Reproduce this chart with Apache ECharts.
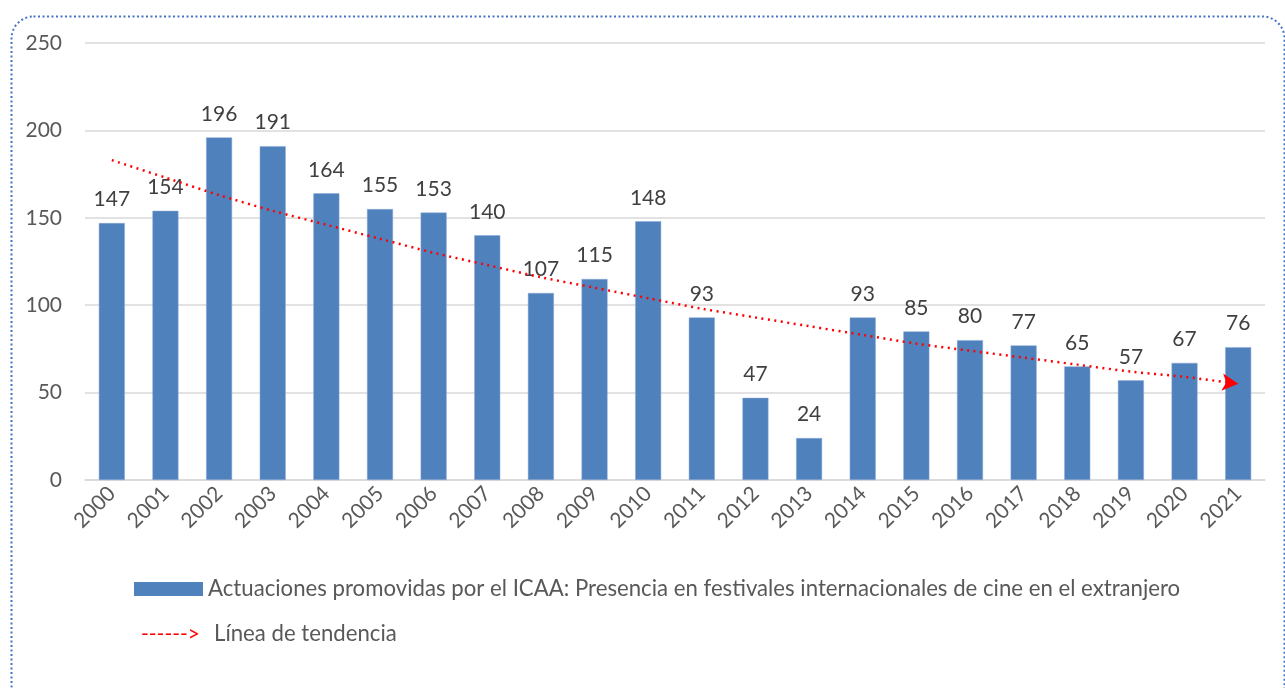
<!DOCTYPE html>
<html><head><meta charset="utf-8">
<script src="https://cdn.jsdelivr.net/npm/echarts@6/dist/echarts.min.js"></script>
<style>html,body{margin:0;padding:0;background:#fff}#c{width:1285px;height:688px}</style>
</head><body><div id="c"></div>
<script>
const years = ['2000','2001','2002','2003','2004','2005','2006','2007','2008','2009','2010','2011','2012','2013','2014','2015','2016','2017','2018','2019','2020','2021'];
const actuaciones = [147,154,196,191,164,155,153,140,107,115,148,93,47,24,93,85,80,77,65,57,67,76];
const tendencia = [183,173,163,154,146,138,130,123,116,110,104,98,93,88,83,78,74,70,66,62,59,55];
const yTicks = [0,50,100,150,200,250];
const barName = 'Actuaciones promovidas por el ICAA: Presencia en festivales internacionales de cine en el extranjero';
const trendName = 'Línea de tendencia';

const FONT = 'Lato, "Open Sans", sans-serif';
const chart = echarts.init(document.getElementById('c'));
const trendData = tendencia.map((v, i) => i === tendencia.length - 1
  ? {value: v, symbol: 'arrow', symbolSize: [13, 16], symbolRotate: -96, itemStyle: {color: '#ff0000'}}
  : v);
chart.setOption({
  animation: false,
  graphic: [{
    type: 'rect', left: 9, top: 14,
    shape: {width: 1273, height: 690, r: 22},
    style: {fill: 'none', stroke: '#4472c4', lineWidth: 2, lineDash: [2, 2.5]},
    silent: true
  }],
  grid: {left: 85, right: 20, top: 43, bottom: 208},
  legend: [{
    data: [barName],
    left: 129, top: 573,
    itemWidth: 69, itemHeight: 14, itemGap: 6,
    icon: 'rect',
    itemStyle: {borderWidth: 0},
    textStyle: {fontFamily: FONT, fontSize: 22.2, color: '#595959'}
  }, {
    data: [{name: trendName, icon: 'none'}],
    left: 131, top: 618,
    itemWidth: 0, itemHeight: 0, itemGap: 0,
    formatter: n => '{a|------>}{b|' + n + '}',
    textStyle: {
      fontFamily: FONT, fontSize: 22.2, color: '#595959',
      rich: {
        a: {color: '#ff0000', fontFamily: FONT, fontSize: 21, width: 73},
        b: {color: '#595959', fontFamily: FONT, fontSize: 22.2}
      }
    }
  }],
  xAxis: {
    type: 'category', data: years,
    axisLine: {lineStyle: {color: '#d9d9d9', width: 1.5}},
    axisTick: {show: false},
    axisLabel: {rotate: 45, fontFamily: FONT, fontSize: 21, color: '#595959', margin: 10}
  },
  yAxis: {
    type: 'value', min: 0, max: 250, interval: 50,
    axisLine: {show: false}, axisTick: {show: false},
    splitLine: {lineStyle: {color: '#d9d9d9', width: 1.5}},
    axisLabel: {fontFamily: FONT, fontSize: 21, color: '#595959', margin: 23,
      formatter: v => yTicks.includes(v) ? String(v) : ''}
  },
  series: [{
    name: barName, type: 'bar', data: actuaciones,
    barWidth: 26,
    itemStyle: {color: '#4f81bd', borderColor: '#8eaad6', borderWidth: 0.5},
    label: {show: true, position: 'top', distance: 13, fontFamily: FONT, fontSize: 21, color: '#404040'}
  }, {
    name: trendName, type: 'line', data: trendData,
    symbol: 'none', smooth: 0.3,
    lineStyle: {color: '#ff0000', width: 2.5, type: [2, 4.5]},
    itemStyle: {color: '#ff0000'},
    z: 5
  }]
});
</script></body></html>
